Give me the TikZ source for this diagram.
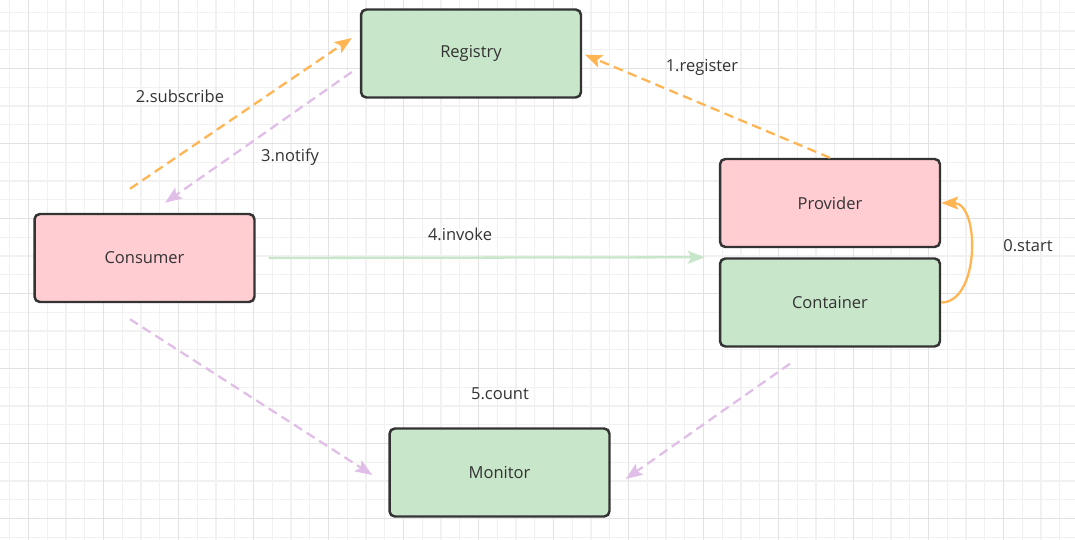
\documentclass[tikz,border=0pt]{standalone}
\usepackage{fontspec}
\setmainfont{Open Sans}
\usepackage{xcolor}
\usetikzlibrary{arrows.meta}

\definecolor{boxgreen}{HTML}{C8E6C9}
\definecolor{boxpink}{HTML}{FFCDD2}
\definecolor{edgeorange}{HTML}{FFB553}
\definecolor{edgepurple}{HTML}{E1BEE7}
\definecolor{ink}{HTML}{333333}
\definecolor{gridminor}{HTML}{F1F1F1}
\definecolor{gridmajor}{HTML}{E2E2E2}

\begin{document}
\begin{tikzpicture}[
  x=0.02cm, y=-0.02cm,
  box/.style={rectangle, draw=ink, line width=1.4pt, rounded corners=3pt, minimum width=4.4cm, minimum height=1.76cm, font=\fontsize{9.4}{11}\selectfont, text=ink, text centered},
  greenbox/.style={box, fill=boxgreen},
  pinkbox/.style={box, fill=boxpink},
  lbl/.style={font=\fontsize{9.4}{11}\selectfont, text=ink},
  link/.style={line width=1.3pt, -{Stealth[length=0.34cm, width=0.26cm, inset=0.07cm]}},
  dashlink/.style={link, dash pattern=on 0.19cm off 0.11cm}
]
  \useasboundingbox (0,0) rectangle (1075,540);

  % grid
  \foreach \gx in {0,...,56} \draw[gridminor, line width=0.6pt] ({9.75+18.75*\gx},0) -- ({9.75+18.75*\gx},540);
  \foreach \gy in {0,...,28} \draw[gridminor, line width=0.6pt] (0,{12.25+18.75*\gy}) -- (1075,{12.25+18.75*\gy});
  \foreach \gx in {0,...,13} \draw[gridmajor, line width=0.6pt] ({28.5+75*\gx},0) -- ({28.5+75*\gx},540);
  \foreach \gy in {0,...,6} \draw[gridmajor, line width=0.6pt] (0,{68.5+75*\gy}) -- (1075,{68.5+75*\gy});

  \node[greenbox] (R) at (471,53.5)  {Registry};
  \node[pinkbox]  (P) at (830,203)   {Provider};
  \node[greenbox] (K) at (830,302.5) {Container};
  \node[pinkbox]  (C) at (144.5,258) {Consumer};
  \node[greenbox] (M) at (499.5,472.5) {Monitor};

  \draw[dashlink, edgeorange, shorten >=0.06cm] (P.north) -- (R.east);
  \draw[dashlink, edgeorange] ([shift={(-14.5,-24)}]C.north) -- ([shift={(-8,-15.5)}]R.west);
  \draw[dashlink, edgepurple] ([shift={(-8,18.5)}]R.west) -- ([shift={(20.5,-10)}]C.north);
  \draw[link, boxgreen] ([shift={(13,0)}]C.east) -- ([shift={(-14,0)}]K.north west);
  \draw[link, edgeorange] (K.east) to[out=0, in=0, looseness=1] (P.east);
  \draw[dashlink, edgepurple] ([shift={(-14.5,16)}]C.south) -- ([shift={(-16,2.5)}]M.west);
  \draw[dashlink, edgepurple] ([shift={(-40,16)}]K.south) -- ([shift={(15,6.5)}]M.east);

  \node[lbl] (l1) at (702,67)   {1.register};
  \node[lbl] (l2) at (180,96)   {2.subscribe};
  \node[lbl] (l3) at (290,157)  {3.notify};
  \node[lbl] (l4) at (460,234)  {4.invoke};
  \node[lbl] (l0) at (1028,246) {0.start};
  \node[lbl] (l5) at (500,394)  {5.count};
\end{tikzpicture}
\end{document}
